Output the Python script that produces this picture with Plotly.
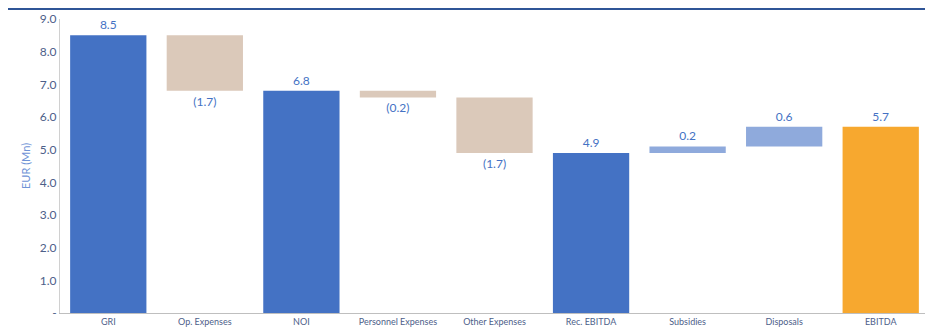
import plotly.graph_objects as go

categories = ["GRI", "Op. Expenses", "NOI", "Personnel Expenses", "Other Expenses",
              "Rec. EBITDA", "Subsidies", "Disposals", "EBITDA"]
values = [8.5, -1.7, 6.8, -0.2, -1.7, 4.9, 0.2, 0.6, 5.7]
measures = ["total", "relative", "total", "relative", "relative",
            "total", "relative", "relative", "total"]
ytick_vals = [0, 1, 2, 3, 4, 5, 6, 7, 8, 9]
ytick_text = ["-", "1.0", "2.0", "3.0", "4.0", "5.0", "6.0", "7.0", "8.0", "9.0"]

BLUE = "#4472C4"
TAN = "#DBC9BA"
LIGHT = "#8FAADC"
ORANGE = "#F7A82F"

bases, heights, colors, labels = [], [], [], []
running = 0.0
for i, (v, m) in enumerate(zip(values, measures)):
    if m == "total":
        bases.append(0)
        heights.append(v)
        running = v
        colors.append(ORANGE if i == len(values) - 1 else BLUE)
        labels.append(f"{v:.1f}")
    else:
        bases.append(running)
        heights.append(v)
        running = running + v
        colors.append(LIGHT if v > 0 else TAN)
        labels.append(f"{v:.1f}" if v > 0 else f"({abs(v):.1f})")

fig = go.Figure(go.Bar(
    x=categories, y=heights, base=bases,
    marker=dict(color=colors, line=dict(width=0)),
    text=labels, textposition="outside", cliponaxis=False,
    textfont=dict(color=BLUE, size=12, family="Lato"),
    hoverinfo="skip",
))

fig.update_layout(
    width=925, height=321,
    margin=dict(l=52, r=4, t=11, b=16),
    paper_bgcolor="white", plot_bgcolor="white",
    bargap=0.21,
    showlegend=False,
    font=dict(family="Lato", color="#4d6089"),
    shapes=[dict(type="line", xref="paper", yref="paper",
                 x0=-0.06, x1=1.01, y0=1.035, y1=1.035,
                 line=dict(color="#2F5597", width=2.5))],
    annotations=[dict(text="EUR (Mn)", xref="paper", yref="paper",
                      x=0, y=0.5, xanchor="center", yanchor="middle",
                      xshift=-35, textangle=-90, showarrow=False,
                      font=dict(size=11, color="#6f93d6"))],
)
fig.update_xaxes(
    showline=True, linecolor="#bfbfbf", linewidth=1,
    ticks="", tickfont=dict(size=9, color="#4d6089"),
    showgrid=False, automargin=False,
)
fig.update_yaxes(
    range=[0, 9], tickvals=ytick_vals, ticktext=ytick_text,
    showline=True, linecolor="#d0d0d0", linewidth=1,
    showgrid=False, zeroline=False, automargin=False,
    tickfont=dict(size=12, color="#4d6089"), ticks="",
)

fig.write_html("out.html")
